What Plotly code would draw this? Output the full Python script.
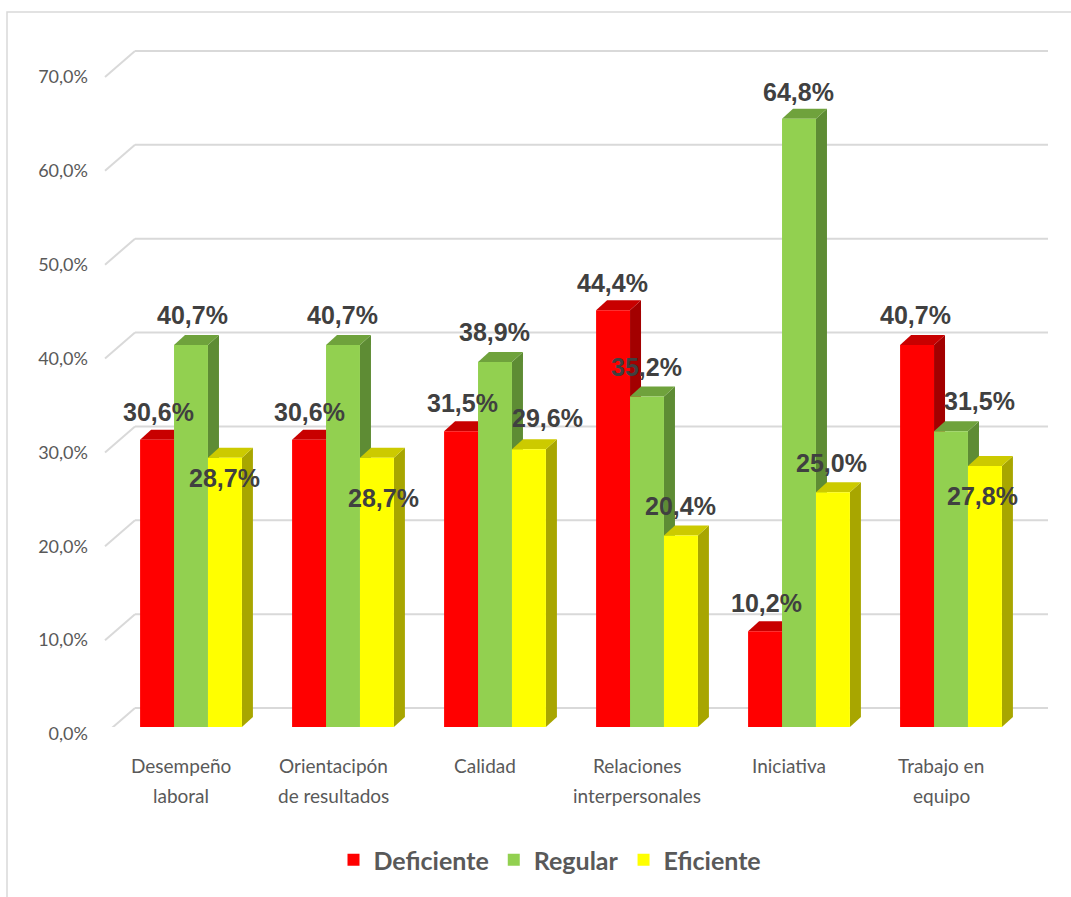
import plotly.graph_objects as go

# ---------------- data ----------------
CATEGORIES = ["Desempeño\nlaboral", "Orientacipón\nde resultados", "Calidad",
              "Relaciones\ninterpersonales", "Iniciativa", "Trabajo en\nequipo"]
SERIES_NAMES = ["Deficiente", "Regular", "Eficiente"]
DEFICIENTE = [30.6, 30.6, 31.5, 44.4, 10.2, 40.7]
REGULAR = [40.7, 40.7, 38.9, 35.2, 64.8, 31.5]
EFICIENTE = [28.7, 28.7, 29.6, 20.4, 25.0, 27.8]
Y_TICKS = [0, 10, 20, 30, 40, 50, 60, 70]
Y_TICK_LABELS = ["0,0%", "10,0%", "20,0%", "30,0%", "40,0%", "50,0%", "60,0%", "70,0%"]

# ---------------- styles ----------------
FRONT = ["#FF0000", "#92D050", "#FFFF00"]
SIDE = ["#A30000", "#5E8C34", "#A8A600"]
TOP = ["#C80000", "#6FA23C", "#CCCA00"]
GRID_COLOR = "#D9D9D9"
TEXT_GRAY = "#595959"
LABEL_GRAY = "#404040"
# data-label nudges in pixels (dx right, dy down) per series, per category
LABEL_OFFSETS = [
    [(1, -28), (0, -28), (1, -28), (-1, -27), (1, -28), (-2, -30)],
    [(1, -30), (-1, -30), (-1, -30), (-1, -30), (-1, -27), (28, -30)],
    [(0, 20), (7, 40), (19, -31), (0, -30), (-1, -29), (-2, 30)],
]

W, H = 1071, 897
N = len(CATEGORIES)
Y_MAX = 70
CAT_PX = 152                 # pixels per category slot
PX_Y = 657 / Y_MAX           # pixels per percentage point
CAT_LEFT_PX = 115            # pixel of category axis start (x=-0.5)
ZERO_PX = 727                # pixel of value 0
ML, MT = 100, 40             # plot area a bit larger than the category/value span
MR = 13
MB = H - ZERO_PX
PLOT_W = W - ML - MR
PLOT_H = H - MT - MB
X_RANGE = [-0.5 - (CAT_LEFT_PX - ML) / CAT_PX, -0.5 + (W - MR - CAT_LEFT_PX) / CAT_PX]
Y_RANGE = [0, (ZERO_PX - MT) / PX_Y]
BARGAP = 0.33
BAR_W = (1 - BARGAP) / 3
DX = 11 / CAT_PX
DY = 10 / PX_Y


def paper_x(px):
    return (px - ML) / PLOT_W


def paper_y(py):
    return (H - MB - py) / PLOT_H


series = [DEFICIENTE, REGULAR, EFICIENTE]
xs = list(range(N))

fig = go.Figure()
for j, (name, vals) in enumerate(zip(SERIES_NAMES, series)):
    fig.add_trace(go.Bar(
        x=xs, y=vals, name=name,
        marker=dict(color=FRONT[j], line=dict(width=0)),
        hoverinfo="skip",
    ))

shapes = []
# outer frame
shapes.append(dict(type="rect", xref="paper", yref="paper",
                   x0=paper_x(7), x1=paper_x(W + 10),
                   y0=paper_y(H + 10), y1=paper_y(12),
                   line=dict(color=GRID_COLOR, width=1.5), layer="below"))
# back-wall gridlines with perspective diagonal
for t in Y_TICKS:
    common = dict(xref="x", yref="y", xsizemode="pixel", ysizemode="pixel",
                  xanchor=-0.5, yanchor=t, layer="below",
                  line=dict(color=GRID_COLOR, width=2))
    shapes.append(dict(type="line", x0=-10, x1=20, y0=-7, y1=19, **common))
    shapes.append(dict(type="line", x0=20, x1=933, y0=19, y1=19, **common))

# 3D side and top faces
for i in range(N):
    for j, vals in enumerate(series):
        v = vals[i]
        c = i + (j - 1) * BAR_W
        left, right = c - BAR_W / 2, c + BAR_W / 2
        side = (f"M{right},0 L{right},{v} L{right + DX},{v + DY} "
                f"L{right + DX},{DY} Z")
        top = (f"M{left},{v} L{right},{v} L{right + DX},{v + DY} "
               f"L{left + DX},{v + DY} Z")
        shapes.append(dict(type="path", path=side, xref="x", yref="y",
                           fillcolor=SIDE[j], line=dict(width=0), layer="below"))
        shapes.append(dict(type="path", path=top, xref="x", yref="y",
                           fillcolor=TOP[j], line=dict(width=0), layer="below"))

annotations = []
for j, vals in enumerate(series):
    for i, v in enumerate(vals):
        dx, dy = LABEL_OFFSETS[j][i]
        annotations.append(dict(
            x=i + (j - 1) * BAR_W, y=v, xref="x", yref="y",
            text=f"{v:.1f}%".replace(".", ","), showarrow=False,
            xshift=dx, yshift=-dy, xanchor="center", yanchor="middle",
            font=dict(family="Liberation Sans, Arial", size=25,
                      color=LABEL_GRAY, weight="bold"),
        ))
for i, cat in enumerate(CATEGORIES):
    for k, line in enumerate(cat.split("\n")):
        annotations.append(dict(
            x=i, y=0, xref="x", yref="y", text=line, showarrow=False,
            xshift=-10, yshift=-38 - 30 * k, xanchor="center", yanchor="middle",
            font=dict(family="Lato, Open Sans, sans-serif", size=19, color=TEXT_GRAY),
        ))

fig.update_layout(
    width=W, height=H,
    margin=dict(l=ML, r=MR, t=MT, b=MB),
    paper_bgcolor="white", plot_bgcolor="rgba(0,0,0,0)",
    barmode="group", bargap=BARGAP, bargroupgap=0,
    shapes=shapes, annotations=annotations,
    showlegend=True,
    legend=dict(orientation="h", x=paper_x(550), xanchor="center",
                y=paper_y(860), yanchor="middle",
                font=dict(family="Lato, Open Sans, sans-serif", size=25,
                          color=TEXT_GRAY, weight="bold"),
                bgcolor="rgba(0,0,0,0)", traceorder="normal"),
    xaxis=dict(range=X_RANGE, showgrid=False, zeroline=False,
               showline=False, showticklabels=False, fixedrange=True),
    yaxis=dict(range=Y_RANGE, tickvals=Y_TICKS, ticktext=Y_TICK_LABELS,
               showgrid=False, zeroline=False, showline=False, ticks="",
               ticklabelstandoff=11, ticklabelshift=7,
               tickfont=dict(family="Lato, Open Sans, sans-serif", size=18, color=TEXT_GRAY),
               fixedrange=True),
)

fig.write_html("out.html", config={"displayModeBar": False})
